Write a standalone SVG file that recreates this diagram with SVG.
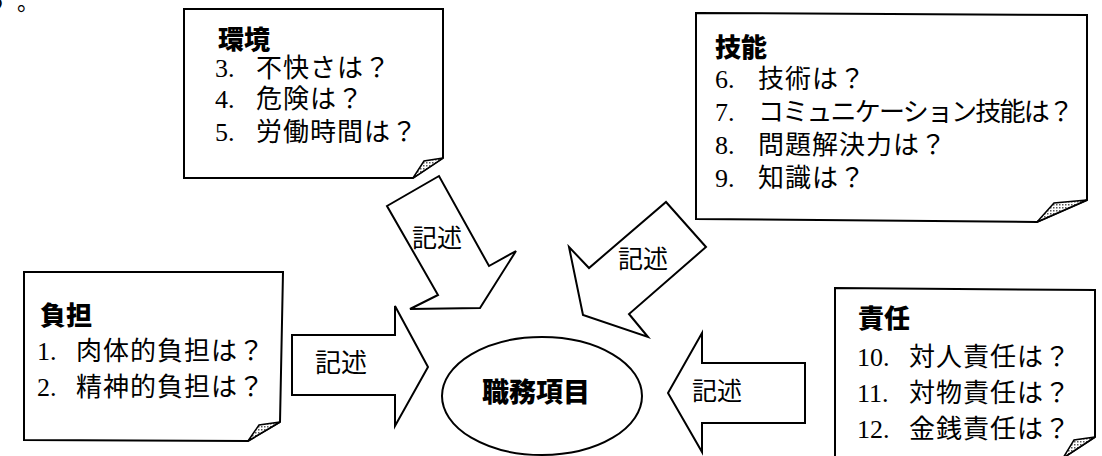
<svg xmlns="http://www.w3.org/2000/svg" width="1102" height="456" viewBox="0 0 1102 456">
<defs>
<pattern id="dots" width="3" height="3" patternUnits="userSpaceOnUse">
<rect width="3" height="3" fill="#fff"/>
<rect width="1.5" height="1.5" fill="#555"/>
</pattern>
<style>
.box{fill:#fff;stroke:#000;stroke-width:2;stroke-linejoin:miter}
.fold{fill:url(#dots);stroke:#000;stroke-width:1.5;stroke-linejoin:miter}
.arrow{fill:#fff;stroke:#000;stroke-width:2;stroke-linejoin:miter}
.t{font-family:"Liberation Serif","Noto Sans CJK JP",serif;font-size:26px;fill:#000}
.t .j{letter-spacing:1px}
.h{font-family:"Noto Sans CJK JP",sans-serif;font-weight:900;font-size:26px;fill:#000}
.lbl{font-family:"Noto Sans CJK JP",sans-serif;font-size:25px;fill:#000}
</style>
</defs>
<rect width="1102" height="456" fill="#fff"/>
<text class="t" x="-16" y="10" style="font-size:22px">う<tspan x="17">。</tspan></text>

<g id="connectors">
<g id="arrow-futan">
<polygon class="arrow" points="292,335 395,335 395,306 428,367 395,426 395,395 292,395"/>
<text class="lbl" x="315" y="372" style="font-size:26px">記述</text>
</g>
<g id="arrow-sekinin">
<polygon class="arrow" points="805,363 702,363 702,333 668,393 702,452 702,423 805,423"/>
<text class="lbl" x="692" y="400">記述</text>
</g>
<g id="arrow-kankyo">
<polygon class="arrow" points="387,206 439,176 489,266 516,251 480,308 410,309 438,295"/>
<text class="lbl" x="412" y="247">記述</text>
</g>
<g id="arrow-gino">
<polygon class="arrow" points="666,202 706,247 629,314 648,337 583,315 569,247 589,268"/>
<text class="lbl" x="618" y="268">記述</text>
</g>
</g>

<g id="node-kankyo">
<path class="box" d="M184,9 L443,9 L443,158 L413,178 L184,178 Z"/>
<polygon class="fold" points="413,178 443,158 424,161"/>
<text class="h" x="218" y="49">環境</text>
<text class="t" y="77"><tspan x="215">3. </tspan><tspan class="j" x="256">不快さは？</tspan></text>
<text class="t" y="108"><tspan x="215">4. </tspan><tspan class="j" x="256">危険は？</tspan></text>
<text class="t" y="141"><tspan x="215">5. </tspan><tspan class="j" x="256">労働時間は？</tspan></text>
</g>

<g id="node-gino">
<path class="box" d="M696,13 L1087,15 L1087,200 L1037,222 L696,219 Z"/>
<polygon class="fold" points="1037,222 1087,200 1054,203"/>
<text class="h" x="715" y="57">技能</text>
<text class="t" y="88"><tspan x="715">6. </tspan><tspan class="j" x="758">技術は？</tspan></text>
<text class="t" y="121"><tspan x="715">7. </tspan><tspan x="758" style="letter-spacing:-1.8px">コミュニケーション技能は？</tspan></text>
<text class="t" y="154"><tspan x="715">8. </tspan><tspan class="j" x="758">問題解決力は？</tspan></text>
<text class="t" y="187"><tspan x="715">9. </tspan><tspan class="j" x="758">知識は？</tspan></text>
</g>

<g id="node-futan">
<path class="box" d="M24,272 L283,272 L280,422 L248,441 L24,440 Z"/>
<polygon class="fold" points="248,441 280,422 259,425"/>
<text class="h" x="40" y="325">負担</text>
<text class="t" y="360"><tspan x="37">1. </tspan><tspan class="j" x="76">肉体的負担は？</tspan></text>
<text class="t" y="396"><tspan x="37">2. </tspan><tspan class="j" x="76">精神的負担は？</tspan></text>
</g>

<g id="node-sekinin">
<path class="box" d="M835,288 L1095,290 L1095,437 L1063,458 L835,458 Z"/>
<polygon class="fold" points="1063,458 1095,437 1074,440"/>
<text class="h" x="858" y="328">責任</text>
<text class="t" y="366"><tspan x="857">10. </tspan><tspan class="j" x="909">対人責任は？</tspan></text>
<text class="t" y="402"><tspan x="857">11. </tspan><tspan class="j" x="909">対物責任は？</tspan></text>
<text class="t" y="438"><tspan x="857">12. </tspan><tspan class="j" x="909">金銭責任は？</tspan></text>
</g>

<g id="node-shokumu">
<ellipse class="box" cx="542" cy="396" rx="100" ry="59"/>
<text class="h" x="536" y="402" text-anchor="middle" style="font-size:27px">職務項目</text>
</g>
</svg>
